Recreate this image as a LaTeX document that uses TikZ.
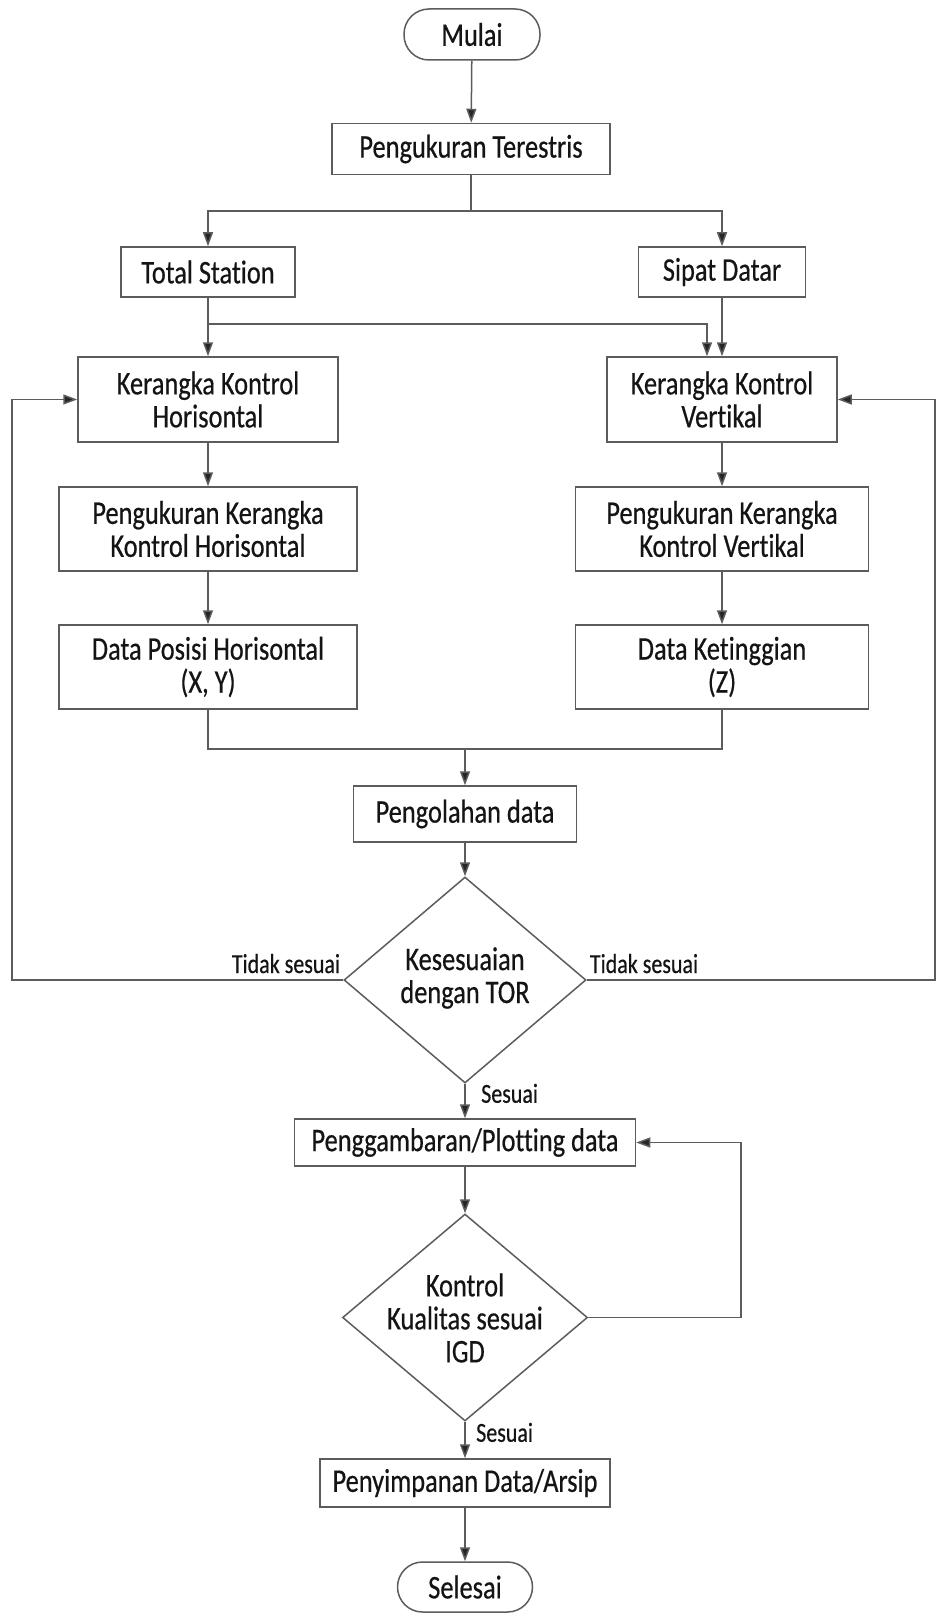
\documentclass[tikz,border=0pt]{standalone}
\usepackage{fontspec}
\setmainfont{Carlito}[FakeStretch=0.8,FakeBold=0.5,Ligatures={NoCommon}]
\usetikzlibrary{arrows.meta,shapes.geometric}
\definecolor{linec}{gray}{0.36}
\definecolor{txtc}{gray}{0.08}
\newcommand{\boxfont}{\fontsize{33}{33}\selectfont}
\newcommand{\lblfont}{\fontsize{27.5}{28}\selectfont}
\begin{document}
\begin{tikzpicture}[x=1pt,y=-1pt,
  sz/.style 2 args={minimum width=#1,minimum height=#2},
  procbox/.style={draw=linec,line width=1.5pt,fill=white,text=txtc,
    font=\boxfont,align=center,inner sep=0pt},
  term/.style={procbox,rounded corners=25pt},
  decision/.style={shape=diamond,draw=linec,line width=1.5pt,fill=white,inner sep=0pt},
  dtext/.style={text=txtc,font=\boxfont,align=center},
  lbl/.style={text=txtc,font=\lblfont,inner sep=0pt},
  conn/.style={draw=linec,line width=1.5pt},
  arr/.style={conn,-{Triangle[length=14pt,width=10pt,fill=black!85]}}]
\useasboundingbox (0,0) rectangle (937,1613);

% process boxes
\node[term,sz={136}{51}]     (start)     at (472,34.5)  {Mulai};
\node[procbox,sz={278}{51}]  (terestris) at (471,149)   {Pengukuran Terestris};
\node[procbox,sz={174}{50}]  (ts)        at (208,272)   {Total Station};
\node[procbox,sz={167}{50}]  (sd)        at (722,272)   {Sipat Datar};
\node[procbox,sz={260}{85}]  (kkh)       at (208,399.5) {Kerangka Kontrol\\Horisontal};
\node[procbox,sz={230}{85}]  (kkv)       at (722,399.5) {Kerangka Kontrol\\Vertikal};
\node[procbox,sz={298}{84}]  (pkh)       at (208,529)   {Pengukuran Kerangka\\Kontrol Horisontal};
\node[procbox,sz={293}{84}]  (pkv)       at (722,529)   {Pengukuran Kerangka\\Kontrol Vertikal};
\node[procbox,sz={298}{84}]  (dph)       at (208,667)   {Data Posisi Horisontal\\(X, Y)};
\node[procbox,sz={293}{84}]  (dk)        at (722,667)   {Data Ketinggian\\(Z)};
\node[procbox,sz={223}{56}]  (olah)      at (465,814)   {Pengolahan data};
\node[decision,minimum width=242pt,minimum height=206pt] (dec1) at (465,980) {};
\node[dtext] (dec1t) at (465,978) {Kesesuaian\\dengan TOR};
\node[procbox,sz={341}{47}]  (plot)      at (465,1142.5) {Penggambaran/Plotting data};
\node[decision,minimum width=245pt,minimum height=207pt] (dec2) at (465,1317.5) {};
\node[dtext] (dec2t) at (465,1318) {Kontrol\\Kualitas sesuai\\IGD};
\node[procbox,sz={290}{48}]  (simpan)    at (465,1483)  {Penyimpanan Data/Arsip};
\node[term,sz={135}{50}]     (finish)    at (465,1587)  {Selesai};

% branching points
\coordinate (br) at (471,211);
\coordinate (j1) at (208,324);
\coordinate (mg) at (465,749);
\coordinate (fl) at (12,980);
\coordinate (fr) at (935,980);
\coordinate (fp) at (741,1317.5);

% main flow
\draw[arr] (start) -- (terestris);
\draw[conn] (terestris.south) -- (br);
\draw[arr] (br) -| (ts.north);
\draw[arr] (br) -| (sd.north);
\draw[arr] (ts.south) -- (kkh.north);
\draw[arr] (j1) -| ([xshift=-15pt]kkv.north);
\draw[arr] (sd.south) -- (kkv.north);
\draw[arr] (kkh) -- (pkh);
\draw[arr] (pkh) -- (dph);
\draw[arr] (kkv) -- (pkv);
\draw[arr] (pkv) -- (dk);
\draw[conn] (dph.south) |- (mg) -| (dk.south);
\draw[arr] (mg) -- (olah.north);
\draw[arr] (olah) -- (dec1.north);
\draw[arr] (dec1.south) -- (plot.north);
\draw[arr] (plot) -- (dec2.north);
\draw[arr] (dec2.south) -- (simpan.north);
\draw[arr] (simpan) -- (finish);

% feedback loops
\draw[arr] (dec1.west) -- (fl) |- (kkh.west);
\draw[arr] (dec1.east) -- (fr) |- (kkv.east);
\draw[arr] (dec2.east) -- (fp) |- (plot.east);

% branch labels
\node[lbl,anchor=base east] (tl) at ([shift={(-3pt,7pt)}]dec1.west) {Tidak sesuai};
\node[lbl,anchor=base west] (tr) at ([shift={(3pt,7pt)}]dec1.east) {Tidak sesuai};
\node[lbl,anchor=base west] (s1) at ([shift={(16pt,-19pt)}]dec1.south) {Sesuai};
\node[lbl,anchor=base west] (s2) at ([shift={(11pt,-20pt)}]dec2.south) {Sesuai};
\end{tikzpicture}
\end{document}
